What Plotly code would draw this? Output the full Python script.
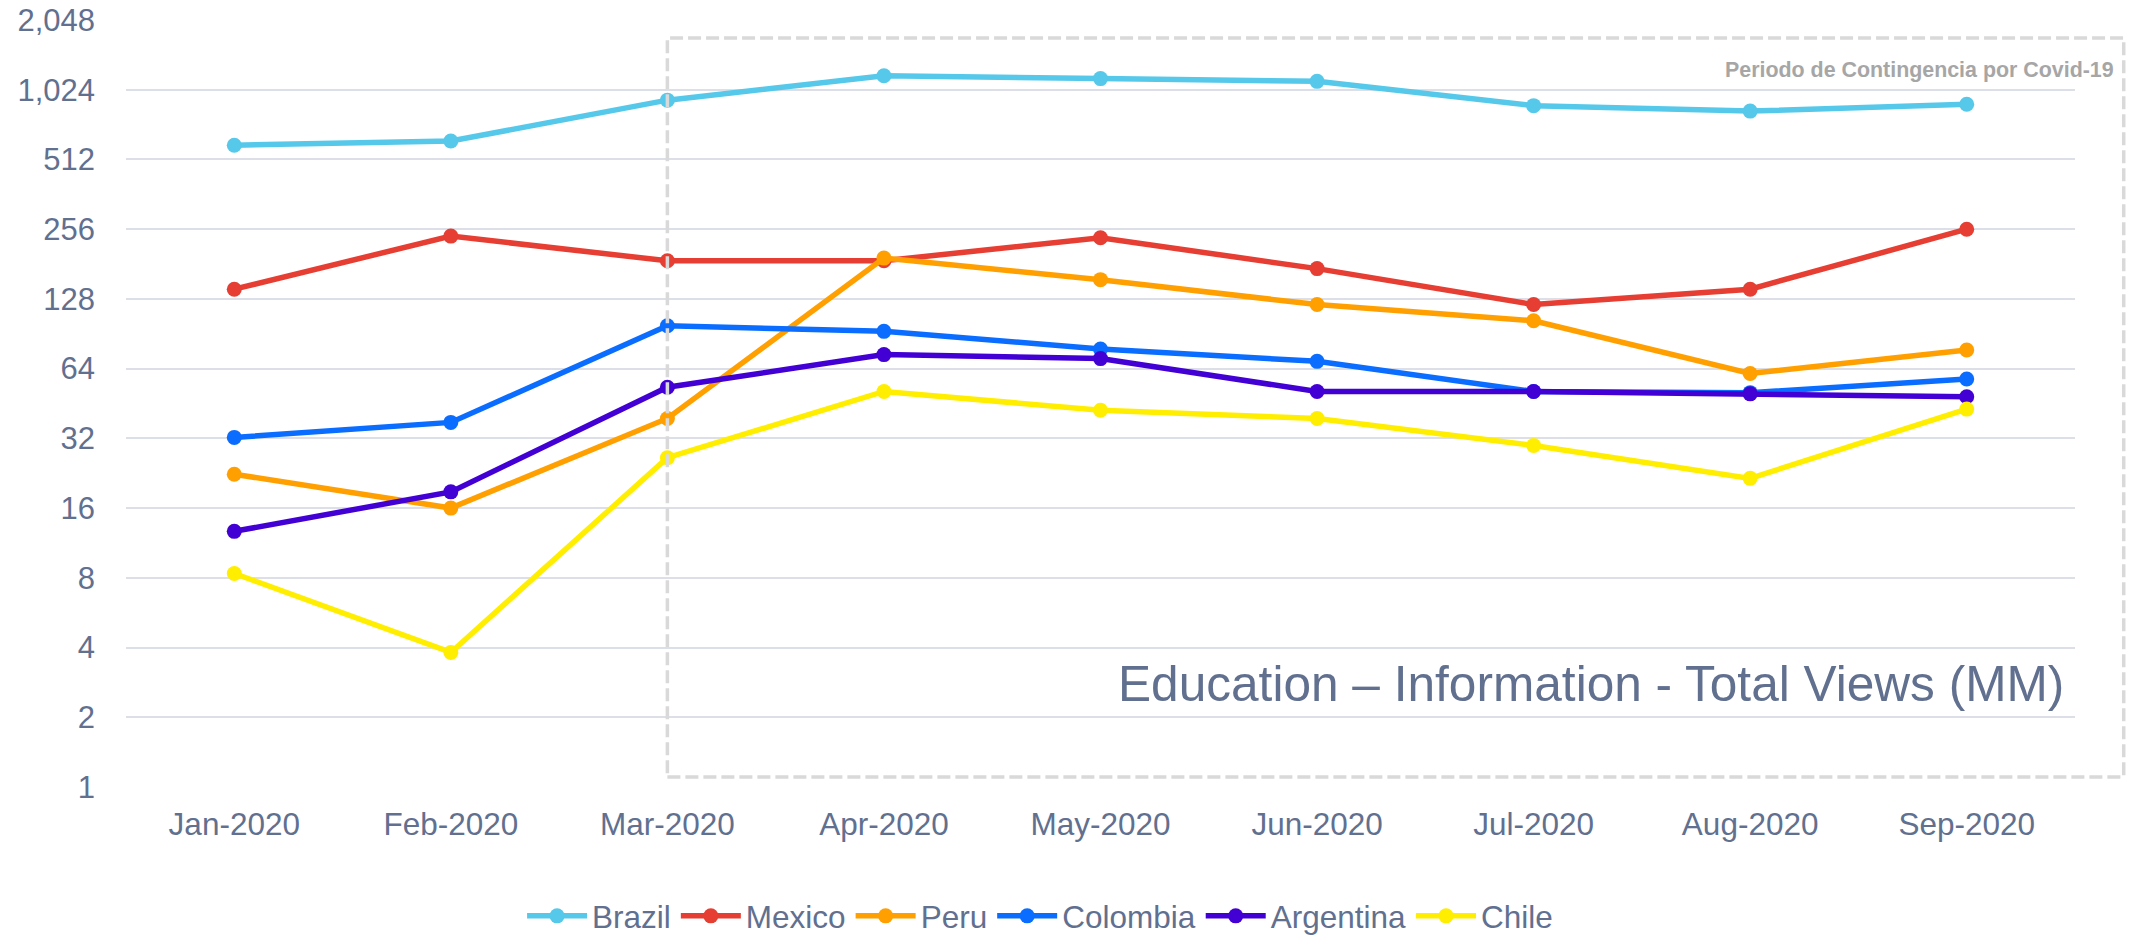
import plotly.graph_objects as go
import math

months = ["Jan-2020", "Feb-2020", "Mar-2020", "Apr-2020", "May-2020",
          "Jun-2020", "Jul-2020", "Aug-2020", "Sep-2020"]

brazil = [590, 615, 923, 1176, 1144, 1113, 874, 828, 886]
mexico = [141, 239, 187, 187, 235, 173, 121, 141, 256]
peru = [22.4, 16, 39, 192, 155, 121, 103, 61, 77]
colombia = [32.3, 37.5, 98, 92.7, 77.8, 68.8, 51, 50.4, 57.7]
argentina = [12.7, 18.8, 53.2, 73.6, 70.7, 51, 51, 49.8, 48.4]
chile = [8.35, 3.81, 26.4, 51, 42.3, 39, 29.8, 21.5, 42.8]

tick_vals = [1, 2, 4, 8, 16, 32, 64, 128, 256, 512, 1024, 2048]
tick_text = ["1", "2", "4", "8", "16", "32", "64", "128", "256", "512", "1,024", "2,048"]

series = [
    ("Brazil", brazil, "#56C8EA"),
    ("Mexico", mexico, "#E63E32"),
    ("Peru", peru, "#FFA000"),
    ("Colombia", colombia, "#0A6DFF"),
    ("Argentina", argentina, "#4300D4"),
    ("Chile", chile, "#FFEE00"),
]

FONT = "Liberation Sans, Arial, sans-serif"
TXT = "#61708F"

fig = go.Figure()
for name, vals, col in series:
    fig.add_trace(go.Scatter(
        x=months, y=vals, name=name, mode="lines+markers",
        line=dict(color=col, width=5.5),
        marker=dict(color=col, size=15),
    ))

fig.update_layout(
    width=2131, height=938,
    margin=dict(l=126, r=56, t=20, b=151, autoexpand=False),
    paper_bgcolor="white", plot_bgcolor="white",
    font=dict(family=FONT, color=TXT, size=31),
    showlegend=True,
    legend=dict(orientation="h", x=0.469, xanchor="center", y=-0.168, yanchor="middle",
                font=dict(size=31.5, color=TXT), itemwidth=60, tracegroupgap=0),
    xaxis=dict(
        type="category", showgrid=False, zeroline=False, showline=False,
        tickfont=dict(size=31.5, color=TXT), ticklabelstandoff=15,
        range=[-0.5, 8.5], automargin=False,
    ),
    yaxis=dict(
        type="log", range=[0, math.log10(2048)],
        tickvals=tick_vals, ticktext=tick_text,
        showgrid=True, gridcolor="#DCDFE8", gridwidth=1.5,
        zeroline=False, showline=False, automargin=False,
        ticklabeloverflow="allow",
        tickfont=dict(size=31, color=TXT), ticklabelstandoff=30,
    ),
)

fig.add_shape(
    type="rect", xref="paper", yref="paper",
    x0=2.5 / 9, x1=1.025, y0=0.013, y1=0.9765,
    line=dict(color="#D9D9D9", width=3.5, dash="13px,5px"),
    fillcolor="rgba(0,0,0,0)", layer="above",
)

fig.add_annotation(
    xref="paper", yref="paper", x=1.021, y=0.935, xanchor="right", yanchor="middle",
    text="<b>Periodo de Contingencia por Covid-19</b>", showarrow=False,
    font=dict(family=FONT, size=21.4, color="#A6A6A6"),
)
fig.add_annotation(
    xref="paper", yref="paper", x=0.9954, y=0.134, xanchor="right", yanchor="middle",
    text="Education – Information - Total Views (MM)", showarrow=False,
    font=dict(family=FONT, size=49.6, color=TXT),
)

# remove the default 8px page margin so the figure fills the window exactly
fig.write_html("out.html", config={"displayModeBar": False},
               post_script="document.body.style.margin='0';")
